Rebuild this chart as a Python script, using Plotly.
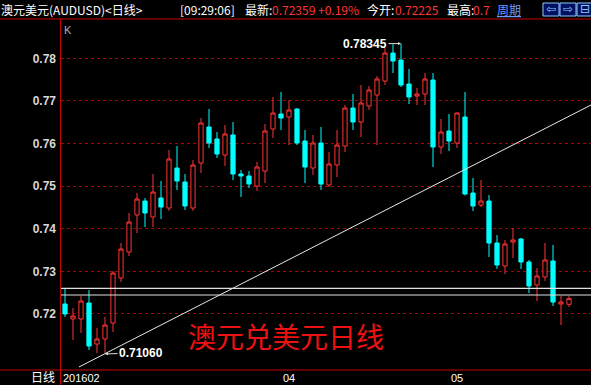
import plotly.graph_objects as go

# ---------------- data ----------------
open_ = [0.72233, 0.71880, 0.71880, 0.72256, 0.71293, 0.71411, 0.71786, 0.72843, 0.73453, 0.74322,
         0.74650, 0.74275, 0.74721, 0.74486, 0.75425, 0.75096, 0.74486, 0.75542, 0.76387, 0.76106,
         0.75730, 0.76200, 0.75284, 0.75237, 0.75002, 0.75354, 0.76340, 0.76692, 0.76622, 0.76810,
         0.76059, 0.75425, 0.76012, 0.75026, 0.75495, 0.75941, 0.76833, 0.76505, 0.76880, 0.77138,
         0.77467, 0.78124, 0.77960, 0.77397, 0.77115, 0.77162, 0.77491, 0.75918, 0.76293, 0.76012,
         0.76622, 0.74838, 0.74556, 0.74650, 0.73664, 0.73124, 0.73688, 0.73758, 0.73218, 0.72678,
         0.72866, 0.73242, 0.72233, 0.72225]
high = [0.72609, 0.72138, 0.72420, 0.72561, 0.71669, 0.71928, 0.73007, 0.73664, 0.74369, 0.74838,
        0.74721, 0.75284, 0.75120, 0.75847, 0.75941, 0.75284, 0.75613, 0.76599, 0.76810, 0.76270,
        0.76434, 0.76505, 0.75378, 0.75354, 0.75566, 0.76458, 0.77092, 0.77209, 0.77021, 0.76830,
        0.76317, 0.76200, 0.76387, 0.75800, 0.76317, 0.76904, 0.77162, 0.77373, 0.77350, 0.77585,
        0.78242, 0.78330, 0.78345, 0.77749, 0.77303, 0.77655, 0.77655, 0.76575, 0.76692, 0.76730,
        0.77209, 0.75190, 0.75143, 0.74791, 0.73852, 0.73735, 0.74016, 0.73782, 0.73265, 0.73077,
        0.73664, 0.73620, 0.72420, 0.72420]
low = [0.71928, 0.71387, 0.71552, 0.71153, 0.71082, 0.71060, 0.71575, 0.72749, 0.73359, 0.73899,
       0.74040, 0.74040, 0.74228, 0.74415, 0.74908, 0.74439, 0.74415, 0.75308, 0.75894, 0.75660,
       0.75472, 0.75143, 0.74744, 0.74955, 0.74885, 0.75073, 0.76129, 0.76317, 0.75965, 0.75965,
       0.75073, 0.75260, 0.74908, 0.74979, 0.75214, 0.75800, 0.76317, 0.76153, 0.76786, 0.75965,
       0.77373, 0.77655, 0.77326, 0.76927, 0.76904, 0.76904, 0.75448, 0.75754, 0.75824, 0.75894,
       0.74780, 0.74415, 0.74509, 0.73336, 0.73054, 0.72937, 0.73312, 0.73054, 0.72491, 0.72303,
       0.72772, 0.72185, 0.71739, 0.72162]
close = [0.71999, 0.71950, 0.72303, 0.71246, 0.71411, 0.71739, 0.72960, 0.73523, 0.74157, 0.74697,
         0.74369, 0.74862, 0.74509, 0.75636, 0.75120, 0.74533, 0.75495, 0.76481, 0.76012, 0.75754,
         0.76223, 0.75284, 0.75237, 0.75049, 0.75448, 0.76293, 0.76716, 0.76599, 0.76786, 0.76012,
         0.75448, 0.76012, 0.75049, 0.75519, 0.75965, 0.76833, 0.76505, 0.76951, 0.77256, 0.77514,
         0.78124, 0.77937, 0.77373, 0.77092, 0.77162, 0.77514, 0.75918, 0.76270, 0.76059, 0.76716,
         0.74815, 0.74533, 0.74650, 0.73664, 0.73148, 0.73641, 0.73735, 0.73218, 0.72655, 0.72890,
         0.73265, 0.72279, 0.72279, 0.72359]
bar_index = list(range(len(open_)))

month_tick_pos = [28, 49]
month_tick_text = ["04", "05"]
first_label = "201602"

price_ticks = [0.72, 0.73, 0.74, 0.75, 0.76, 0.77, 0.78]
price_tick_text = ["0.72", "0.73", "0.74", "0.75", "0.76", "0.77", "0.78"]

support_levels = [0.72601, 0.72444]
trend_x = [1.75, 65.75]
trend_y = [0.70754, 0.76904]

peak_idx, peak_val, peak_text = 42, 0.78345, "0.78345"
trough_idx, trough_val, trough_text = 5, 0.71060, "0.71060"

# ---------------- figure ----------------
W, H = 591, 385
L, R, T, B = 61, 0, 19, 15
PW, PH = W - L - R, H - T - B


def px(x):
    return (x - L) / PW


def py(y):
    return (H - B - y) / PH


RED = "#ff3434"
CYAN = "#00ffff"
AXRED = "#c80000"

fig = go.Figure()
fig.add_trace(go.Candlestick(
    x=bar_index, open=open_, high=high, low=low, close=close,
    increasing=dict(line=dict(color=RED, width=1), fillcolor="#000000"),
    decreasing=dict(line=dict(color=CYAN, width=1), fillcolor=CYAN),
    whiskerwidth=0, showlegend=False, hoverinfo="skip",
))
fig.add_trace(go.Scatter(
    x=trend_x, y=trend_y, mode="lines",
    line=dict(color="#e8e8e8", width=1), showlegend=False, hoverinfo="skip",
))

shapes = []
for lv in support_levels:
    shapes.append(dict(type="line", xref="paper", yref="y", x0=0, x1=1, y0=lv, y1=lv,
                       line=dict(color="#e0e0e0", width=1.2), layer="above"))
# frame lines of the trading window
shapes += [
    dict(type="line", xref="paper", yref="paper", x0=px(0), x1=1, y0=1, y1=1,
         line=dict(color=AXRED, width=1)),
    dict(type="line", xref="paper", yref="paper", x0=px(0), x1=1, y0=0, y1=0,
         line=dict(color=AXRED, width=1)),
    dict(type="line", xref="paper", yref="paper", x0=px(60.5), x1=px(60.5), y0=1, y1=py(H + 2),
         line=dict(color=AXRED, width=1)),
]
# toolbar boxes
for x0, x1 in [(543, 559), (560, 576), (577, 592)]:
    shapes.append(dict(type="rect", xref="paper", yref="paper", x0=px(x0), x1=px(x1),
                       y0=py(16), y1=py(3), line=dict(color="#8ec8ff", width=1),
                       fillcolor="#001060"))

CJK = "Noto Sans CJK SC, Liberation Sans, sans-serif"
NUM = "Liberation Sans, Arial, sans-serif"
ann = []


def head(x, text, color="#ffffff", size=12, family=CJK):
    ann.append(dict(xref="paper", yref="paper", x=px(x), y=py(9.5), text=text,
                    showarrow=False, xanchor="left", yanchor="middle",
                    font=dict(color=color, size=size, family=family)))


head(-1, "澳元美元(AUDUSD)<日线>")
head(178, "[09:29:06]")
head(243, "最新:")
head(270, "0.72359 +0.19%", RED)
head(365, "今开:")
head(393, "0.72225", RED)
head(445, "最高:")
head(471, "0.7", RED)
head(495, "<u>周期</u>", "#6a9cff")
for cx, t in [(551, "⇦"), (568, "⇨"), (585, "⊟")]:
    ann.append(dict(xref="paper", yref="paper", x=px(cx), y=py(9.5), text=t,
                    showarrow=False, xanchor="center", yanchor="middle",
                    font=dict(color="#8ec8ff", size=12, family="DejaVu Sans")))

ann.append(dict(xref="paper", yref="paper", x=px(62), y=py(30), text="K", showarrow=False,
                xanchor="left", yanchor="middle", font=dict(color="#b0b0b0", size=11, family=NUM)))
ann.append(dict(xref="paper", yref="paper", x=px(30), y=py(376.5), text="日线", showarrow=False,
                xanchor="left", yanchor="middle", borderpad=0,
                font=dict(color="#ffffff", size=12, family=CJK)))
ann.append(dict(xref="x", yref="paper", x=-0.5, y=py(377.5), text=first_label, showarrow=False,
                xanchor="left", yanchor="middle", font=dict(color="#ffffff", size=11, family=NUM)))
ann.append(dict(xref="paper", yref="paper", x=px(286), y=py(336), text="澳元兑美元日线",
                showarrow=False, xanchor="center", yanchor="middle",
                font=dict(color="#ee1111", size=28, family=CJK)))
ann.append(dict(xref="x", yref="y", x=peak_idx, y=peak_val, text="<b>" + peak_text + "</b>",
                showarrow=True, arrowhead=2, arrowsize=0.6, arrowwidth=1, arrowcolor="#e0e0e0",
                ax=-36, ay=0, standoff=0, font=dict(color="#ffffff", size=12, family=NUM)))
ann.append(dict(xref="x", yref="y", x=trough_idx, y=trough_val, text="<b>" + trough_text + "</b>",
                showarrow=True, arrowhead=2, arrowsize=0.6, arrowwidth=1, arrowcolor="#e0e0e0",
                ax=36, ay=-1, standoff=0, font=dict(color="#ffffff", size=12, family=NUM)))

fig.update_layout(
    width=W, height=H, margin=dict(l=L, r=R, t=T, b=B, autoexpand=False),
    paper_bgcolor="#000000", plot_bgcolor="#000000",
    boxgap=0.25, showlegend=False, hovermode=False,
    shapes=shapes, annotations=ann,
    xaxis=dict(range=[-0.5, 65.75], rangeslider=dict(visible=False), showgrid=False,
               zeroline=False, showline=False, ticks="", tickvals=month_tick_pos,
               ticktext=month_tick_text, tickfont=dict(color="#ffffff", size=11, family=NUM),
               automargin=False, fixedrange=True),
    yaxis=dict(range=[0.70683, 0.78923], tickvals=price_ticks, ticktext=price_tick_text,
               showgrid=True, gridcolor="#b00000", griddash="dot", gridwidth=1,
               zeroline=False, showline=False, ticks="",
               tickfont=dict(color="#d8d8d8", size=12, family=NUM, weight="bold"),
               ticklabelstandoff=4, automargin=False, fixedrange=True),
)

fig.write_html("out.html", config={"displayModeBar": False})
